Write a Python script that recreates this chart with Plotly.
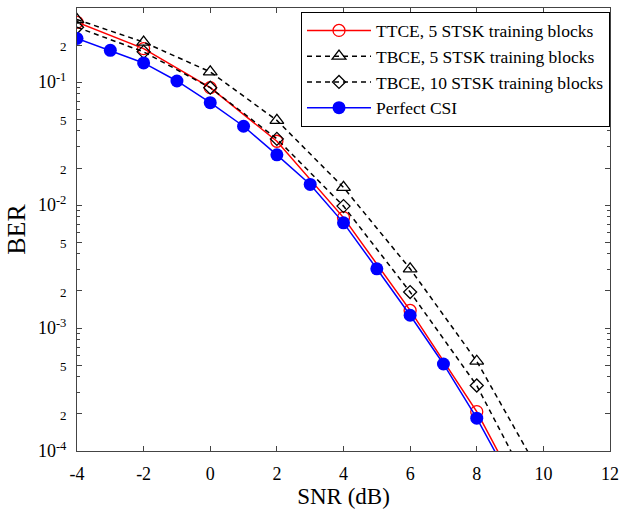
import plotly.graph_objects as go

# ---- data ----
snr_even = [-4, -2, 0, 2, 4, 6, 8, 10]
snr_all = [-4, -3, -2, -1, 0, 1, 2, 3, 4, 5, 6, 7, 8, 9]

ber_ttce5 = [0.306, 0.187, 0.090, 0.033, 0.0079, 0.00139, 2.09e-4, 2.0e-5]
ber_tbce5 = [0.322, 0.211, 0.121, 0.0488, 0.0139, 0.00303, 5.37e-4, 5.9e-5]
ber_tbce10 = [0.279, 0.176, 0.090, 0.0345, 0.0098, 0.00196, 3.41e-4, 3.1e-5]
ber_perfect = [0.226, 0.181, 0.143, 0.102, 0.068, 0.0437, 0.0256, 0.0147,
               0.00716, 0.00303, 0.00127, 5.1e-4, 1.85e-4, 5.9e-5]

names = ["TTCE, 5 STSK training blocks", "TBCE, 5 STSK training blocks",
         "TBCE, 10 STSK training blocks", "Perfect CSI"]

x_ticks = [-4, -2, 0, 2, 4, 6, 8, 10, 12]
y_major = [1e-4, 2e-4, 5e-4, 1e-3, 2e-3, 5e-3, 1e-2, 2e-2, 5e-2, 1e-1, 2e-1]
y_major_text = ["10<sup>-4</sup>", "2", "5", "10<sup>-3</sup>", "2", "5",
                "10<sup>-2</sup>", "2", "5", "10<sup>-1</sup>", "2"]
y_minor = [m * 10.0 ** e for e in (-4, -3, -2, -1) for m in (3, 4, 6, 7, 8, 9) if m * 10.0 ** e <= 0.4]

FONT = "Liberation Serif"

def ylab(t):
    if t in ("2", "5"):
        return "<span style='font-size:13px'>" + t + "</span>"
    return t

fig = go.Figure()
fig.add_trace(go.Scatter(x=snr_even, y=ber_ttce5, name=names[0], mode="lines+markers",
                         line=dict(color="red", width=1.5),
                         marker=dict(symbol="circle-open", size=12, color="red", line=dict(width=1.3))))
fig.add_trace(go.Scatter(x=snr_even, y=ber_tbce5, name=names[1], mode="lines+markers",
                         line=dict(color="black", width=1.5, dash="5px,4px"),
                         marker=dict(symbol="triangle-up-open", size=12, color="black", line=dict(width=1.3))))
fig.add_trace(go.Scatter(x=snr_even, y=ber_tbce10, name=names[2], mode="lines+markers",
                         line=dict(color="black", width=1.5, dash="5px,4px"),
                         marker=dict(symbol="diamond-open", size=10, color="black", line=dict(width=1.3))))
fig.add_trace(go.Scatter(x=snr_all, y=ber_perfect, name=names[3], mode="lines+markers",
                         line=dict(color="blue", width=1.5),
                         marker=dict(symbol="circle", size=13, color="blue")))

fig.update_layout(
    width=626, height=511,
    margin=dict(l=77, r=9, t=7, b=58),
    paper_bgcolor="white", plot_bgcolor="white",
    font=dict(family=FONT, color="black", size=17),
    showlegend=True,
    legend=dict(x=1, xanchor="right", y=0.992, yanchor="top",
                bgcolor="white", bordercolor="black", borderwidth=1,
                font=dict(family=FONT, size=17.5), tracegroupgap=0,
                itemwidth=64),
)
fig.update_xaxes(range=[-4, 12], tickvals=x_ticks, ticktext=[str(v) for v in x_ticks],
                 showgrid=False, zeroline=False, showline=True, linecolor="#444", linewidth=1,
                 mirror="allticks", ticks="inside", ticklen=5, tickcolor="#444",
                 ticklabelstandoff=6,
                 tickfont=dict(family=FONT, size=18),
                 title=dict(text="SNR (dB)", font=dict(family=FONT, size=23), standoff=4))
fig.update_yaxes(type="log", range=[-4, -0.398], tickvals=y_major,
                 ticktext=[ylab(t) for t in y_major_text],
                 showgrid=False, zeroline=False, showline=True, linecolor="#444", linewidth=1,
                 mirror="allticks", ticks="inside", ticklen=5, tickcolor="#444",
                 ticklabelstandoff=6,
                 tickfont=dict(family=FONT, size=18),
                 minor=dict(tickvals=y_minor, ticks="inside", ticklen=3, tickcolor="#444", showgrid=False),
                 title=dict(text="BER", font=dict(family=FONT, size=26), standoff=4))

fig.write_html("out.html")
